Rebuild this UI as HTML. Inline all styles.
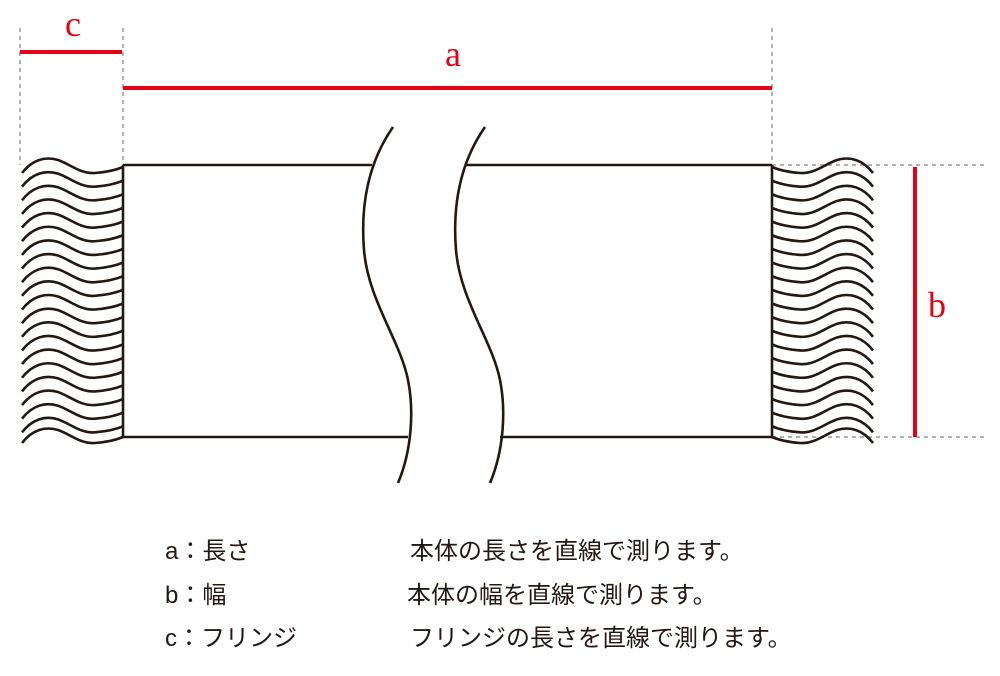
<!DOCTYPE html>
<html><head><meta charset="utf-8"><style>
html,body{margin:0;padding:0;background:#fff;}
svg{display:block}
.t{font-family:"Liberation Sans","Noto Sans CJK JP",sans-serif;font-size:24px;fill:#231815}
.r{font-family:"Liberation Serif",serif;font-size:36px;fill:#e60012}
</style></head><body>
<svg width="1000" height="676" viewBox="0 0 1000 676" xmlns="http://www.w3.org/2000/svg">
<defs>
<path id="w" d="M22,173 C32,160 45,156 58,160 C70,164 80,174 95,173 C108,172 116,170 123,167" fill="none" stroke="#231815" stroke-width="2.6"/>
</defs>
<g stroke="#999" stroke-width="1.5" stroke-dasharray="4,4" fill="none">
<line x1="20" y1="28" x2="20" y2="165"/>
<line x1="123" y1="28" x2="123" y2="165"/>
<line x1="772" y1="28" x2="772" y2="165"/>
<line x1="772" y1="165" x2="985" y2="165"/>
<line x1="772" y1="437" x2="985" y2="437"/>
</g>
<g id="lf">
<use href="#w" y="0"/><use href="#w" y="13.65"/><use href="#w" y="27.3"/><use href="#w" y="40.95"/><use href="#w" y="54.6"/><use href="#w" y="68.25"/><use href="#w" y="81.9"/><use href="#w" y="95.55"/><use href="#w" y="109.2"/><use href="#w" y="122.85"/><use href="#w" y="136.5"/><use href="#w" y="150.15"/><use href="#w" y="163.8"/><use href="#w" y="177.45"/><use href="#w" y="191.1"/><use href="#w" y="204.75"/><use href="#w" y="218.4"/><use href="#w" y="232.05"/><use href="#w" y="245.7"/><use href="#w" y="259.35"/><use href="#w" y="270"/>
</g>
<use href="#lf" transform="translate(895,0) scale(-1,1)"/>
<g stroke="#231815" stroke-width="2.6" fill="none">
<line x1="123" y1="165" x2="123" y2="437"/>
<line x1="772" y1="165" x2="772" y2="437"/>
<line x1="123" y1="165" x2="372" y2="165"/>
<line x1="465" y1="165" x2="772" y2="165"/>
<line x1="123" y1="437" x2="408" y2="437"/>
<line x1="500" y1="437" x2="772" y2="437"/>
<path d="M393,127 C370,160 360,200 364,250 C368,300 400,340 408,380 C414,410 412,450 398,483"/>
<path d="M485,127 C462,160 452,200 456,250 C460,300 492,340 500,380 C506,410 504,450 490,483"/>
</g>
<g stroke="#e60012" stroke-width="4">
<line x1="20" y1="52" x2="122" y2="52"/>
<line x1="123" y1="88" x2="772" y2="88"/>
<line x1="915" y1="167" x2="915" y2="437"/>
</g>
<text class="r" x="73" y="36" text-anchor="middle">c</text>
<text class="r" x="453" y="66" text-anchor="middle">a</text>
<text class="r" x="937" y="317" text-anchor="middle">b</text>
<text class="t" x="165" y="559">a：長さ</text>
<text class="t" x="410" y="559">本体の長さを直線で測ります。</text>
<text class="t" x="165" y="603">b：幅</text>
<text class="t" x="407" y="603">本体の幅を直線で測ります。</text>
<text class="t" x="165" y="646">c：フリンジ</text>
<text class="t" x="410" y="646">フリンジの長さを直線で測ります。</text>
</svg>
</body></html>
